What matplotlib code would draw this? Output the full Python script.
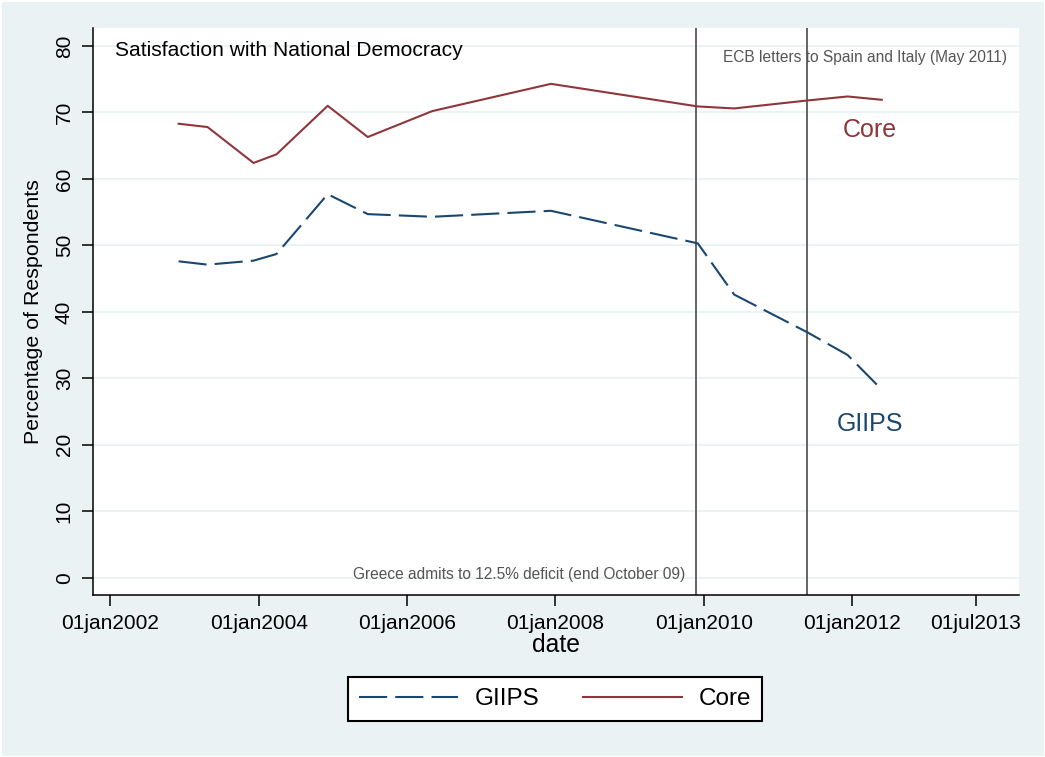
import matplotlib
matplotlib.use("Agg")
import matplotlib.pyplot as plt

# survey waves as decimal years
survey_dates = [2002.92, 2003.31, 2003.93, 2004.24, 2004.93, 2005.47, 2006.34,
                2007.94, 2009.92, 2010.41, 2011.40, 2011.94, 2012.40]
giips = [47.6, 47.1, 47.7, 48.7, 57.7, 54.7, 54.3, 55.2, 50.3, 42.6, 36.9, 33.5, 28.3]
core = [68.3, 67.8, 62.4, 63.7, 71.0, 66.3, 70.2, 74.3, 70.9, 70.6, 71.8, 72.4, 71.9]

x_ticks = [2002, 2004, 2006, 2008, 2010, 2012, 2013.67]
x_labels = ["01jan2002", "01jan2004", "01jan2006", "01jan2008",
            "01jan2010", "01jan2012", "01jul2013"]
y_ticks = [0, 10, 20, 30, 40, 50, 60, 70, 80]

events = [2009.90, 2011.39]

navy = "#1a476f"
maroon = "#90353b"
bg = "#eaf2f3"

plt.rcParams['font.family'] = ['Liberation Sans', 'DejaVu Sans']

fig = plt.figure(figsize=(10.45, 7.57), dpi=100)
fig.patch.set_facecolor(bg)
fig.patch.set_edgecolor("white")
fig.patch.set_linewidth(2)
ax = fig.add_axes([0.0893, 0.214, 0.8858, 0.749])
ax.set_facecolor("white")

for y in y_ticks:
    ax.axhline(y, color=bg, lw=1.4, zorder=0)

for x in events:
    ax.axvline(x, color="#4a4a4a", lw=1.2, zorder=1)

ax.plot(survey_dates, giips, color=navy, lw=1.5, dashes=(13.5, 3.9), label="GIIPS", zorder=3)
ax.plot(survey_dates, core, color=maroon, lw=1.5, label="Core", zorder=3)

ax.set_xlim(2001.77, 2014.25)
ax.set_ylim(-2.6, 82.7)

ax.set_xticks(x_ticks)
ax.set_xticklabels(x_labels)
ax.set_yticks(y_ticks)
ax.tick_params(axis="both", length=8, width=1.1, color="black", labelsize=15, pad=6)
ax.tick_params(axis="y", labelrotation=90)
for lab in ax.get_yticklabels():
    lab.set_va("center")

for s in ["top", "right"]:
    ax.spines[s].set_visible(False)
for s in ["left", "bottom"]:
    ax.spines[s].set_linewidth(1.1)

ax.set_xlabel("date", fontsize=17.8, labelpad=0)
ax.set_ylabel("Percentage of Respondents", fontsize=15.4, va="center")
ax.yaxis.set_label_coords(-0.065, 0.5)

ax.text(0.023, 0.9506, "Satisfaction with National Democracy", transform=ax.transAxes,
        fontsize=15.1, ha="left", va="baseline", color="black")
ax.text(0.987, 0.9395, "ECB letters to Spain and Italy (May 2011)", transform=ax.transAxes,
        fontsize=11.2, ha="right", va="baseline", color="#555555")
ax.text(0.639, 0.0277, "Greece admits to 12.5% deficit (end October 09)", transform=ax.transAxes,
        fontsize=11.2, ha="right", va="baseline", color="#555555")

ax.text(2012.24, 66.3, "Core", color=maroon, fontsize=18, ha="center", va="baseline")
ax.text(2012.24, 22.0, "GIIPS", color=navy, fontsize=18, ha="center", va="baseline")

leg = fig.legend(loc="center", bbox_to_anchor=(0.531, 0.0766), ncol=2, fontsize=17.5,
                 handlelength=4.09, handletextpad=0.68, columnspacing=1.78,
                 borderpad=0.45, fancybox=False, framealpha=1)
leg.get_frame().set_edgecolor("black")
leg.get_frame().set_linewidth(1.5)

fig.savefig("out.png", dpi=100, facecolor=fig.get_facecolor(), edgecolor=fig.get_edgecolor())
